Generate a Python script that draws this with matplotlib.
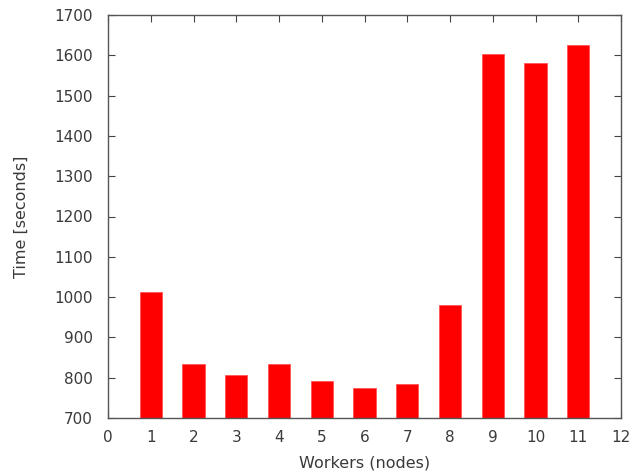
import matplotlib
matplotlib.use("Agg")
import matplotlib.pyplot as plt

workers = [1, 2, 3, 4, 5, 6, 7, 8, 9, 10, 11]
times = [1012, 833, 806, 833, 791, 774, 784, 980, 1602, 1582, 1626]
xticks = list(range(0, 13))
yticks = list(range(700, 1701, 100))

plt.rcParams['font.family'] = ['DejaVu Sans']
fig = plt.figure(figsize=(6.32, 4.76), dpi=100)
ax = fig.add_axes([108/632, 1 - 418/476, (621-108)/632, (418-15)/476])
ax.set_axisbelow(True)
ax.bar(workers, [t - 700 for t in times], bottom=700, width=0.52,
       color='#ff0000', edgecolor='#ff5555', linewidth=0.6)
ax.set_xlim(0, 12)
ax.set_ylim(700, 1700)
ax.set_xticks(xticks)
ax.set_yticks(yticks)
ax.tick_params(direction='in', top=True, right=True, length=5, width=0.8,
               color='#444444', labelsize=11, labelcolor='#3a3a3a')
ax.tick_params(axis='x', pad=9)
ax.tick_params(axis='y', pad=11)
for s in ax.spines.values():
    s.set_color('#555555')
    s.set_linewidth(1.0)
ax.set_xlabel('Workers (nodes)', fontsize=11.5, color='#3a3a3a', labelpad=7)
ax.set_ylabel('Time [seconds]', fontsize=11.5, color='#3a3a3a', labelpad=18)
fig.savefig('out.png', dpi=100)
